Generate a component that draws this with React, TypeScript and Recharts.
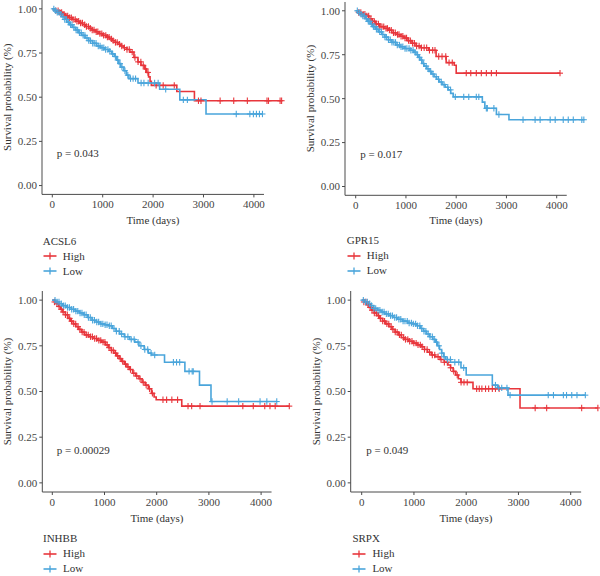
import React from 'react';
import { ComposedChart, Line, Scatter, XAxis, YAxis, ReferenceLine } from 'recharts';

const FONT = '"Liberation Serif", "DejaVu Serif", "Times New Roman", serif';
const RED = '#E8363C';
const BLUE = '#4AA5DB';
const AXIS = '#4a4a4a';
const TEXT = '#333333';

const timeTicks = [0, 1000, 2000, 3000, 4000];
const survTicks = [0, 0.25, 0.5, 0.75, 1];
const groupLabels = ['High', 'Low'];
const genes = ['ACSL6', 'GPR15', 'INHBB', 'SRPX'];
const pValues = ['p = 0.043', 'p = 0.017', 'p = 0.00029', 'p = 0.049'];

type Step = [number, number];

// ---- ACSL6 ----
const acsl6HighSteps: Step[] = [
  [0, 1], [60, 0.99], [130, 0.98], [200, 0.97], [260, 0.96], [330, 0.95], [400, 0.94], [470, 0.93],
  [540, 0.92], [600, 0.91], [660, 0.9], [720, 0.89], [790, 0.88], [860, 0.87], [930, 0.86], [1000, 0.85],
  [1070, 0.84], [1130, 0.83], [1190, 0.82], [1250, 0.81], [1300, 0.8], [1360, 0.79], [1420, 0.78],
  [1480, 0.77], [1540, 0.755], [1620, 0.725], [1700, 0.7], [1760, 0.68], [1830, 0.66], [1870, 0.64],
  [1910, 0.615], [1940, 0.59], [1965, 0.567], [2470, 0.532], [2820, 0.48],
];
const acsl6HighEnd = 4550;
const acsl6HighCensor = [
  70, 115, 150, 185, 232, 268, 305, 342, 378, 412, 455, 488, 523, 561, 598, 642, 677, 718, 754, 792,
  828, 871, 903, 944, 982, 1018, 1061, 1093, 1128, 1172, 1208, 1253, 1288, 1334, 1378, 1431, 1482, 1527,
  1585, 1640, 1702, 1757, 1805, 1852, 1898, 2060, 2200, 2420, 2900, 2950, 3330, 3600, 3870, 4260, 4290,
  4520, 4550,
];
const acsl6LowSteps: Step[] = [
  [0, 1], [40, 0.99], [90, 0.98], [140, 0.97], [190, 0.955], [240, 0.94], [290, 0.925], [340, 0.91],
  [400, 0.895], [460, 0.88], [520, 0.865], [580, 0.85], [650, 0.835], [720, 0.82], [800, 0.805],
  [880, 0.79], [960, 0.78], [1040, 0.77], [1120, 0.76], [1180, 0.745], [1230, 0.73], [1280, 0.71],
  [1320, 0.69], [1360, 0.67], [1420, 0.65], [1470, 0.625], [1520, 0.605], [1700, 0.58], [2130, 0.545],
  [2530, 0.485], [3050, 0.405],
];
const acsl6LowEnd = 4170;
const acsl6LowCensor = [
  30, 62, 98, 133, 168, 212, 247, 283, 318, 362, 391, 428, 472, 503, 538, 574, 612, 648, 688, 723,
  758, 802, 833, 868, 912, 948, 987, 1022, 1058, 1103, 1142, 1198, 1252, 1298, 1343, 1382, 1441, 1498,
  1552, 1603, 1652, 1762, 1818, 1902, 2030, 2100, 2250, 2600, 2680, 3650, 3920, 3990, 4050, 4110, 4170,
];

// ---- GPR15 ----
const gpr15HighSteps: Step[] = [
  [0, 1], [50, 0.99], [120, 0.98], [190, 0.97], [260, 0.955], [330, 0.94], [400, 0.925], [480, 0.91],
  [560, 0.9], [640, 0.89], [720, 0.875], [800, 0.865], [880, 0.855], [960, 0.845], [1040, 0.83],
  [1120, 0.815], [1200, 0.8], [1300, 0.79], [1450, 0.775], [1600, 0.74], [1800, 0.705], [1960, 0.69],
  [2000, 0.645],
];
const gpr15HighEnd = 4066;
const gpr15HighCensor = [
  60, 102, 148, 183, 221, 258, 302, 333, 371, 408, 452, 481, 522, 558, 603, 632, 671, 708, 752, 788,
  832, 862, 903, 938, 981, 1012, 1052, 1088, 1132, 1168, 1212, 1262, 1308, 1362, 1412, 1468, 1532, 1578,
  1652, 1718, 1792, 1858, 1922, 2200, 2290, 2400, 2500, 2600, 2700, 2800, 4066,
];
const gpr15LowSteps: Step[] = [
  [0, 1], [40, 0.99], [90, 0.98], [140, 0.97], [190, 0.955], [240, 0.94], [290, 0.925], [340, 0.91],
  [400, 0.895], [460, 0.88], [520, 0.865], [580, 0.85], [650, 0.835], [720, 0.82], [800, 0.805],
  [880, 0.795], [980, 0.785], [1080, 0.775], [1150, 0.765], [1200, 0.75], [1240, 0.735], [1280, 0.72],
  [1320, 0.7], [1360, 0.685], [1410, 0.67], [1460, 0.655], [1510, 0.64], [1560, 0.625], [1610, 0.61],
  [1660, 0.595], [1720, 0.58], [1780, 0.565], [1840, 0.55], [1890, 0.53], [1940, 0.51], [2520, 0.48],
  [2570, 0.445], [2800, 0.41], [3050, 0.38],
];
const gpr15LowEnd = 4540;
const gpr15LowCensor = [
  32, 71, 108, 142, 178, 212, 251, 282, 311, 352, 381, 412, 441, 478, 512, 541, 582, 611, 652, 688,
  722, 758, 792, 828, 871, 902, 938, 982, 1018, 1062, 1098, 1142, 1178, 1232, 1268, 1312, 1352, 1402,
  1438, 1492, 1538, 1602, 1648, 1702, 1758, 1832, 1888, 1982, 2150, 2250, 2400, 2450, 2600, 2620, 2750,
  2850, 3330, 3570, 3670, 3870, 3970, 4130, 4230, 4330, 4500, 4540,
];

// ---- INHBB ----
const inhbbHighSteps: Step[] = [
  [0, 1], [40, 0.99], [80, 0.98], [120, 0.965], [160, 0.95], [200, 0.935], [250, 0.92], [300, 0.9],
  [350, 0.885], [400, 0.87], [450, 0.855], [500, 0.84], [560, 0.825], [620, 0.81], [700, 0.8],
  [780, 0.79], [860, 0.78], [940, 0.77], [1020, 0.755], [1080, 0.74], [1130, 0.725], [1180, 0.71],
  [1230, 0.695], [1280, 0.68], [1330, 0.665], [1380, 0.65], [1430, 0.635], [1480, 0.62], [1540, 0.6],
  [1600, 0.585], [1660, 0.57], [1720, 0.55], [1780, 0.535], [1840, 0.515], [1900, 0.49], [1950, 0.47],
  [1990, 0.455], [2480, 0.42],
];
const inhbbHighEnd = 4540;
const inhbbHighCensor = [
  42, 88, 131, 172, 208, 252, 288, 332, 368, 412, 448, 492, 528, 572, 608, 652, 688, 732, 768, 812,
  848, 892, 928, 972, 1008, 1052, 1088, 1132, 1168, 1212, 1252, 1302, 1348, 1402, 1452, 1498, 1562,
  1618, 1682, 1742, 1798, 1862, 1918, 2120, 2190, 2290, 2400, 2600, 2670, 2830, 3650, 3850, 4070, 4170,
  4270, 4540,
];
const inhbbLowSteps: Step[] = [
  [0, 1], [60, 0.99], [130, 0.98], [200, 0.97], [280, 0.96], [360, 0.95], [440, 0.94], [520, 0.93],
  [600, 0.92], [680, 0.905], [760, 0.89], [840, 0.88], [920, 0.87], [1000, 0.865], [1080, 0.86],
  [1150, 0.845], [1220, 0.83], [1290, 0.815], [1380, 0.8], [1480, 0.785], [1580, 0.77], [1660, 0.75],
  [1760, 0.73], [1840, 0.71], [1900, 0.7], [2150, 0.66], [2540, 0.61], [2820, 0.535], [3040, 0.445],
];
const inhbbLowEnd = 4300;
const inhbbLowCensor = [
  52, 91, 128, 171, 212, 248, 292, 328, 372, 408, 452, 488, 532, 568, 612, 648, 692, 728, 772, 808,
  852, 888, 932, 968, 1012, 1048, 1092, 1128, 1182, 1228, 1282, 1328, 1392, 1448, 1512, 1568, 1642,
  1698, 1772, 1828, 1892, 1962, 2320, 2380, 2440, 2620, 2680, 2700, 3060, 3350, 3570, 3980, 4110, 4300,
];

// ---- SRPX ----
const srpxHighSteps: Step[] = [
  [0, 1], [40, 0.99], [90, 0.975], [140, 0.96], [190, 0.945], [240, 0.93], [290, 0.915], [340, 0.9],
  [400, 0.885], [460, 0.87], [520, 0.855], [580, 0.84], [640, 0.825], [700, 0.81], [760, 0.795],
  [830, 0.785], [900, 0.775], [980, 0.765], [1060, 0.755], [1140, 0.745], [1200, 0.73], [1260, 0.715],
  [1330, 0.7], [1400, 0.69], [1500, 0.675], [1580, 0.66], [1650, 0.645], [1700, 0.63], [1750, 0.61],
  [1800, 0.59], [1850, 0.57], [1900, 0.55], [2130, 0.515], [3030, 0.41],
];
const srpxHighEnd = 4520;
const srpxHighCensor = [
  41, 82, 121, 162, 198, 242, 278, 322, 358, 402, 438, 482, 518, 562, 598, 642, 678, 722, 758, 802,
  838, 882, 918, 962, 998, 1042, 1078, 1122, 1158, 1202, 1252, 1298, 1352, 1398, 1462, 1518, 1582,
  1638, 1702, 1762, 1828, 1902, 1958, 2020, 2200, 2250, 2300, 2370, 2430, 2500, 2560, 2630, 3320, 3540,
  4210, 4520,
];
const srpxLowSteps: Step[] = [
  [0, 1], [50, 0.99], [110, 0.98], [170, 0.97], [230, 0.955], [300, 0.945], [370, 0.935], [440, 0.925],
  [520, 0.915], [600, 0.905], [680, 0.895], [780, 0.885], [880, 0.875], [980, 0.87], [1060, 0.86],
  [1120, 0.845], [1180, 0.83], [1240, 0.815], [1300, 0.8], [1360, 0.785], [1410, 0.77], [1450, 0.75],
  [1490, 0.73], [1530, 0.71], [1570, 0.69], [1610, 0.675], [1700, 0.66], [1900, 0.63], [2000, 0.59],
  [2500, 0.535], [2600, 0.52], [2800, 0.48],
];
const srpxLowEnd = 4280;
const srpxLowCensor = [
  31, 72, 108, 152, 188, 232, 268, 312, 348, 392, 428, 472, 508, 552, 588, 632, 668, 712, 748, 792,
  828, 872, 908, 952, 988, 1032, 1068, 1112, 1148, 1192, 1228, 1272, 1308, 1352, 1388, 1432, 1478,
  1532, 1578, 1642, 1698, 1782, 1858, 1952, 2560, 2620, 2680, 2780, 2840, 3570, 3670, 3860, 3920, 4020,
  4120, 4280,
];

// Survival value of a step curve at time t
function survAt(steps: Step[], t: number): number {
  let s = steps[0][1];
  for (const [time, v] of steps) {
    if (time <= t) s = v;
    else break;
  }
  return s;
}

function curveData(steps: Step[], end: number) {
  const pts = steps.map(([t, s]) => ({ t, s }));
  pts.push({ t: end, s: steps[steps.length - 1][1] });
  return pts;
}

function censorData(steps: Step[], times: number[]) {
  return times.map((t) => ({ t, s: survAt(steps, t) }));
}

const makePlus = (color: string) => (props: any) => {
  const { cx, cy } = props;
  if (cx == null || cy == null) return <g />;
  return (
    <g stroke={color} strokeWidth={1.1}>
      <line x1={cx - 3} x2={cx + 3} y1={cy} y2={cy} />
      <line x1={cx} x2={cx} y1={cy - 3.2} y2={cy + 3.2} />
    </g>
  );
};

type Geometry = {
  panelX: number; // page x of the panel's left edge
  left: number; // page x of y axis
  zeroPx: number; // page x of t = 0
  pxPer1000: number;
  top: number; // page y of plot top
  height: number; // plot height
  right: number; // page x of plot right edge
  pY: number;
  legendY: number;
  xTitleY: number;
  yTitleX: number;
};

const geometries: Geometry[] = [
  { panelX: 0, left: 42, zeroPx: 52.3, pxPer1000: 50.4, top: -0.5, height: 194.4, right: 292, pY: 153, legendY: 240.7, xTitleY: 220, yTitleX: 7 },
  { panelX: 300, left: 345, zeroPx: 355.7, pxPer1000: 50.25, top: 2.2, height: 193.3, right: 596, pY: 154, legendY: 240, xTitleY: 220.7, yTitleX: 310 },
  { panelX: 0, left: 42.3, zeroPx: 52.3, pxPer1000: 52.2, top: 291.2, height: 201, right: 296, pY: 449.7, legendY: 538.3, xTitleY: 518, yTitleX: 7 },
  { panelX: 300, left: 350.7, zeroPx: 361.7, pxPer1000: 52.25, top: 291.2, height: 201, right: 600, pY: 449.7, legendY: 538.3, xTitleY: 518, yTitleX: 316 },
];

const series = [
  { high: [acsl6HighSteps, acsl6HighEnd, acsl6HighCensor], low: [acsl6LowSteps, acsl6LowEnd, acsl6LowCensor] },
  { high: [gpr15HighSteps, gpr15HighEnd, gpr15HighCensor], low: [gpr15LowSteps, gpr15LowEnd, gpr15LowCensor] },
  { high: [inhbbHighSteps, inhbbHighEnd, inhbbHighCensor], low: [inhbbLowSteps, inhbbLowEnd, inhbbLowCensor] },
  { high: [srpxHighSteps, srpxHighEnd, srpxHighCensor], low: [srpxLowSteps, srpxLowEnd, srpxLowCensor] },
] as { high: [Step[], number, number[]]; low: [Step[], number, number[]] }[];

const AXIS_END = 4200;
const MARGIN_TOP = 10;
const XAXIS_H = 42;

function LegendMark({ color }: { color: string }) {
  return (
    <svg width={14} height={8} style={{ display: 'block' }}>
      <line x1={0.5} x2={13.5} y1={4} y2={4} stroke={color} strokeWidth={1.6} />
      <line x1={7} x2={7} y1={0.5} y2={7.5} stroke={color} strokeWidth={1.3} />
    </svg>
  );
}

function Panel({ idx }: { idx: number }) {
  const g = geometries[idx];
  const s = series[idx];
  const perDay = g.pxPer1000 / 1000;
  const xMin = -(g.zeroPx - g.left) / perDay;
  const xMax = (g.right - g.zeroPx) / perDay;
  const chartTop = g.top - MARGIN_TOP;
  const width = g.right - g.panelX;
  const height = MARGIN_TOP + g.height + XAXIS_H;
  const axisEndPx = g.zeroPx + AXIS_END * perDay;
  const xTitleLocalX = (g.left + axisEndPx) / 2 - g.panelX;
  const xTitleLocalY = g.xTitleY - chartTop;
  const yTitleLocalX = g.yTitleX - g.panelX;
  const yTitleLocalY = g.top + g.height / 2 - chartTop;

  const highLine = curveData(s.high[0], s.high[1]);
  const lowLine = curveData(s.low[0], s.low[1]);
  const highCens = censorData(s.high[0], s.high[2]);
  const lowCens = censorData(s.low[0], s.low[2]);

  const textStyle = { fontFamily: FONT, fontSize: 11, fill: TEXT } as const;

  return (
    <>
      <div style={{ position: 'absolute', left: g.panelX, top: chartTop }}>
        <ComposedChart width={width} height={height} margin={{ top: MARGIN_TOP, right: 0, bottom: 0, left: 0 }}>
          <XAxis
            type="number"
            dataKey="t"
            domain={[xMin, xMax]}
            ticks={timeTicks}
            axisLine={false}
            tickLine={{ stroke: AXIS }}
            tickSize={3}
            tickMargin={3}
            height={XAXIS_H}
            tick={{ fontFamily: FONT, fontSize: 11, fill: '#444' }}
            interval={0}
            label={() => (
              <text x={xTitleLocalX} y={xTitleLocalY} textAnchor="middle" dominantBaseline="central" style={textStyle}>
                Time (days)
              </text>
            )}
          />
          <YAxis
            type="number"
            domain={[-0.05, 1.05]}
            ticks={survTicks}
            width={g.left - g.panelX}
            axisLine={{ stroke: AXIS }}
            tickLine={{ stroke: AXIS }}
            tickSize={3}
            tickMargin={2}
            tickFormatter={(v: number) => v.toFixed(2)}
            tick={{ fontFamily: FONT, fontSize: 11, fill: '#444' }}
            interval={0}
            label={() => (
              <text
                x={yTitleLocalX}
                y={yTitleLocalY}
                transform={`rotate(-90 ${yTitleLocalX} ${yTitleLocalY})`}
                textAnchor="middle"
                dominantBaseline="central"
                style={textStyle}
              >
                Survival probability (%)
              </text>
            )}
          />
          <ReferenceLine
            segment={[{ x: xMin, y: -0.05 }, { x: AXIS_END, y: -0.05 }]}
            stroke={AXIS}
            strokeWidth={1}
            ifOverflow="visible"
          />
          <Line data={highLine} dataKey="s" type="stepAfter" stroke={RED} strokeWidth={1.6} dot={false} activeDot={false} isAnimationActive={false} />
          <Scatter data={highCens} dataKey="s" shape={makePlus(RED)} isAnimationActive={false} />
          <Line data={lowLine} dataKey="s" type="stepAfter" stroke={BLUE} strokeWidth={1.6} dot={false} activeDot={false} isAnimationActive={false} />
          <Scatter data={lowCens} dataKey="s" shape={makePlus(BLUE)} isAnimationActive={false} />
        </ComposedChart>
      </div>
      <div
        style={{
          position: 'absolute',
          left: g.zeroPx + 4.5,
          top: g.pY - 7,
          fontFamily: FONT,
          fontSize: 11,
          lineHeight: '14px',
          color: TEXT,
          whiteSpace: 'nowrap',
        }}
      >
        {pValues[idx]}
      </div>
      <div
        style={{
          position: 'absolute',
          left: g.left + (g.panelX === 0 ? 0.7 : 1.7),
          top: g.legendY - 7,
          fontFamily: FONT,
          fontSize: 11,
          lineHeight: '15px',
          color: TEXT,
          whiteSpace: 'nowrap',
        }}
      >
        <div>{genes[idx]}</div>
        {groupLabels.map((lab, i) => (
          <div key={lab} style={{ display: 'flex', alignItems: 'center', height: 15 }}>
            <LegendMark color={i === 0 ? RED : BLUE} />
            <span style={{ marginLeft: 6 }}>{lab}</span>
          </div>
        ))}
      </div>
    </>
  );
}

export default function App() {
  return (
    <div style={{ position: 'absolute', left: 0, top: 0, width: 600, height: 576, background: '#fff', overflow: 'hidden' }}>
      {geometries.map((_, i) => (
        <Panel key={i} idx={i} />
      ))}
    </div>
  );
}
